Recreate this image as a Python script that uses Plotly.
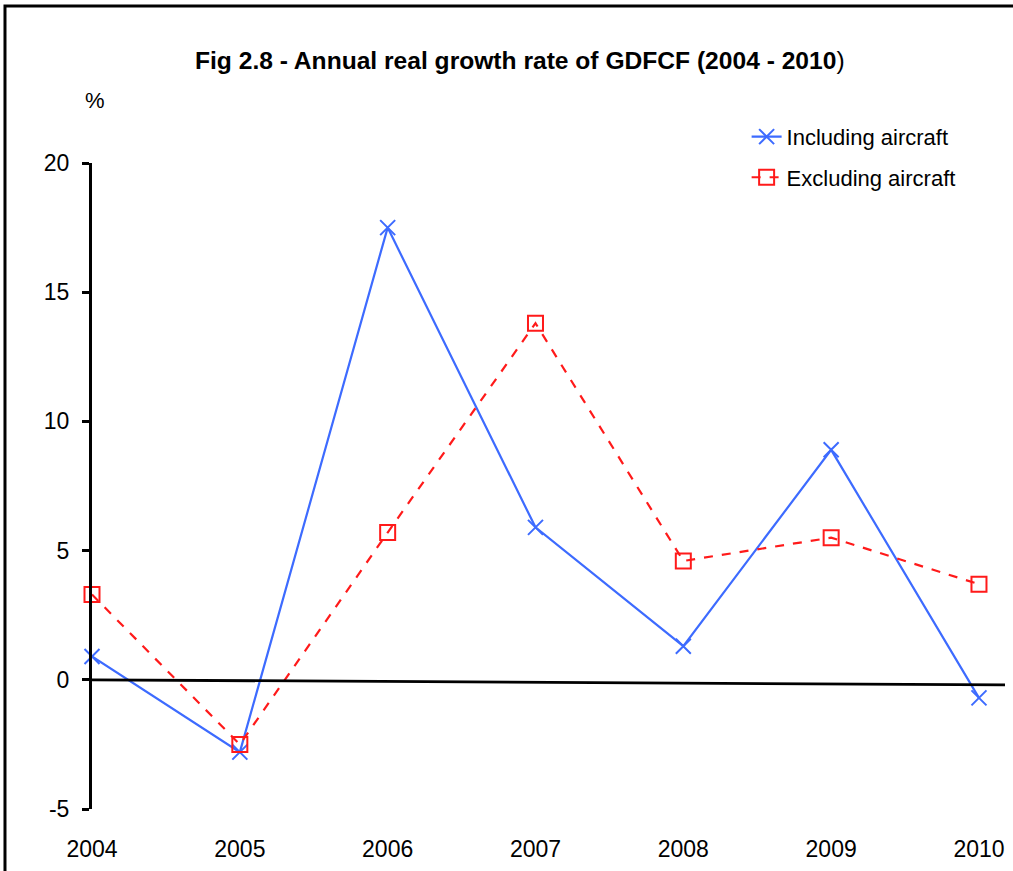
import plotly.graph_objects as go

years = [2004, 2005, 2006, 2007, 2008, 2009, 2010]
including_aircraft = [0.9, -2.8, 17.5, 5.9, 1.3, 8.9, -0.7]
excluding_aircraft = [3.3, -2.5, 5.7, 13.8, 4.6, 5.5, 3.7]
y_ticks = [-5, 0, 5, 10, 15, 20]
y_tick_text = ["-5", "0", "5", "10", "15", "20"]

font_name = "Liberation Sans, Arial, sans-serif"

fig = go.Figure()
fig.add_trace(go.Scatter(
    x=years, y=including_aircraft, name="Including aircraft",
    mode="lines+markers", legendgroup="inc",
    line=dict(color="#3d6bff", width=2.2),
    marker=dict(symbol="x-thin", size=15, line=dict(color="#3d6bff", width=2)),
    cliponaxis=False,
))
fig.add_trace(go.Scatter(
    x=years, y=excluding_aircraft, name="Excluding aircraft",
    mode="lines+markers", legendgroup="exc",
    line=dict(color="#ff1a1a", width=2.2, dash="dash"),
    marker=dict(symbol="square-open", size=15, color="#ff1a1a", line=dict(width=2)),
    cliponaxis=False,
))

# zero line (slightly sloped, as in the original)
fig.add_shape(type="line", xref="x", yref="y", x0=2004, x1=2010.176, y0=0, y1=-0.2,
              line=dict(color="black", width=2.8))
# outer frame
fig.add_shape(type="rect", xref="paper", yref="paper", x0=-0.0953, x1=1.03, y0=-0.2, y1=1.243,
              line=dict(color="black", width=3), fillcolor="rgba(0,0,0,0)")

fig.add_annotation(text="<b>Fig 2.8 - Annual real growth rate of GDFCF (2004 - 2010</b>)",
                   xref="paper", yref="paper", x=0.469, y=1.158, showarrow=False,
                   xanchor="center", yanchor="middle", font=dict(size=24.6, color="black"))
fig.add_annotation(text="%", xref="paper", yref="paper", x=0.003, y=1.0975, showarrow=False,
                   xanchor="center", yanchor="middle", font=dict(size=22, color="black"))

fig.update_layout(
    width=1013, height=871,
    margin=dict(l=92, r=8, t=163, b=62),
    paper_bgcolor="white", plot_bgcolor="white",
    font=dict(family=font_name, size=23, color="black"),
    legend=dict(x=0.717, y=1.073, xanchor="left", yanchor="top",
                bgcolor="rgba(0,0,0,0)", font=dict(size=22),
                traceorder="grouped", tracegroupgap=9),
    showlegend=True,
)
fig.update_xaxes(range=[2004, 2010.176], tickvals=years, showgrid=False, zeroline=False,
                 showline=False, ticks="", ticklabelstandoff=24)
fig.update_yaxes(range=[-5, 20], tickvals=y_ticks, ticktext=y_tick_text,
                 showgrid=False, zeroline=False,
                 showline=True, linecolor="black", linewidth=3,
                 ticks="outside", ticklen=7, tickwidth=2.5, tickcolor="black",
                 ticklabelstandoff=8)

fig.write_html("out.html", config={"displayModeBar": False},
               post_script="document.body.style.margin='0px';")
